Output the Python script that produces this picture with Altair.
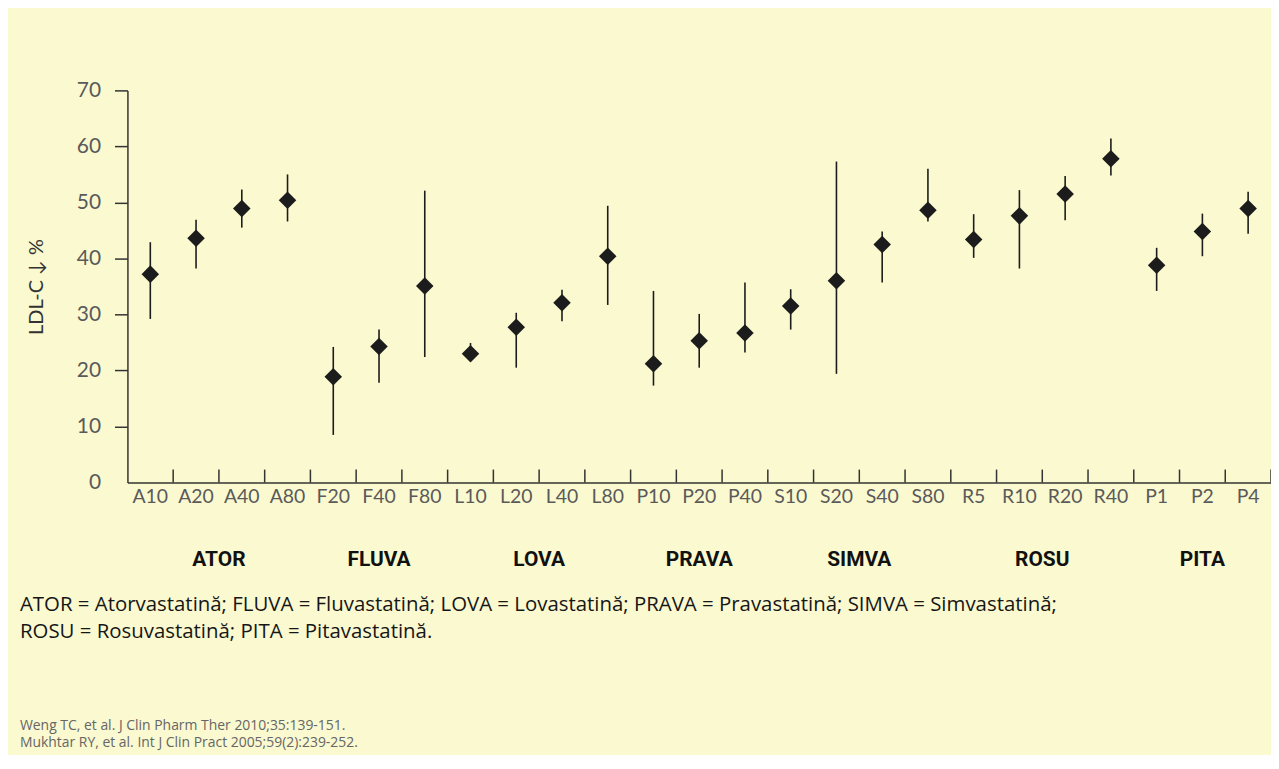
import altair as alt
import pandas as pd

categories = ["A10", "A20", "A40", "A80", "F20", "F40", "F80", "L10", "L20", "L40", "L80",
              "P10", "P20", "P40", "S10", "S20", "S40", "S80", "R5", "R10", "R20", "R40",
              "P1", "P2", "P4"]
mean_vals = [37.2, 43.6, 48.9, 50.4, 18.9, 24.3, 35.1, 23.0, 27.7, 32.1, 40.4,
             21.2, 25.3, 26.7, 31.5, 36.0, 42.5, 48.6, 43.4, 47.6, 51.5, 57.8,
             38.8, 44.8, 48.9]
low_vals = [29.2, 38.2, 45.5, 46.6, 8.5, 17.8, 22.4, 22.1, 20.5, 28.8, 31.7,
            17.3, 20.5, 23.2, 27.3, 19.4, 35.7, 46.6, 40.1, 38.2, 46.8, 54.8,
            34.2, 40.4, 44.4]
high_vals = [42.9, 46.9, 52.3, 55.0, 24.2, 27.3, 52.1, 24.9, 30.3, 34.4, 49.4,
             34.2, 30.1, 35.7, 34.5, 57.3, 44.8, 56.0, 47.9, 52.2, 54.7, 61.4,
             41.9, 48.0, 51.9]
group_names = ["ATOR", "FLUVA", "LOVA", "PRAVA", "SIMVA", "ROSU", "PITA"]
group_sizes = [4, 3, 4, 3, 4, 4, 3]

footnote_1 = "ATOR = Atorvastatină; FLUVA = Fluvastatină; LOVA = Lovastatină; PRAVA = Pravastatină; SIMVA = Simvastatină;"
footnote_2 = "ROSU = Rosuvastatină; PITA = Pitavastatină."
ref_1 = "Weng TC, et al. J Clin Pharm Ther 2010;35:139-151."
ref_2 = "Mukhtar RY, et al. Int J Clin Pract 2005;59(2):239-252."
y_title = "LDL-C ↓ %"

W, H = 1149, 394
STEP = W / len(categories)
BG = "#faf9d0"
INK = "#1c1c1c"
LABEL = "#5a5a5a"

df = pd.DataFrame({"cat": categories, "mean": mean_vals, "low": low_vals, "high": high_vals})

xscale = alt.Scale(type="band", domain=categories, paddingInner=0, paddingOuter=0)
yscale = alt.Scale(domain=[0, 70], nice=False, zero=True)

x_enc = alt.X("cat:N", scale=xscale, sort=categories,
              axis=alt.Axis(title=None, ticks=False, labelAngle=0, labelFont="Lato",
                            labelFontSize=19.5, labelColor=LABEL, labelPadding=5,
                            domainColor="#333333", domainWidth=1.5))

base = alt.Chart(df)

bars = base.mark_rule(color=INK, strokeWidth=1.6).encode(
    x=x_enc,
    y=alt.Y("low:Q", scale=yscale,
            axis=alt.Axis(title=y_title, values=[0, 10, 20, 30, 40, 50, 60, 70],
                          grid=False, titleFont="Lato", titleFontSize=20,
                          titleFontWeight="normal", titleColor="#333333", titlePadding=30,
                          labelFont="Lato", labelFontSize=21, labelColor=LABEL,
                          labelPadding=14, tickSize=13, tickWidth=1.5,
                          tickColor={"condition": {"test": "datum.value == 0", "value": "transparent"},
                                     "value": "#333333"},
                          domainColor="#333333", domainWidth=1.5)),
    y2="high:Q",
)

points = base.mark_point(shape="diamond", filled=True, size=310, color=INK, opacity=1).encode(
    x=alt.X("cat:N", scale=xscale, sort=categories),
    y=alt.Y("mean:Q", scale=yscale),
)

ticks = base.mark_rule(color="#333333", strokeWidth=1.5, xOffset=STEP / 2).encode(
    x=alt.X("cat:N", scale=xscale, sort=categories),
    y=alt.value(H),
    y2=alt.value(H - 13),
)

layers = [bars, points, ticks]

start = 0
for name, n in zip(group_names, group_sizes):
    gdf = pd.DataFrame({"cat": [categories[start]], "label": [name]})
    layers.append(
        alt.Chart(gdf).mark_text(font="Roboto", fontSize=21, fontWeight="bold", color="#111111",
                                 xOffset=(n - 1) / 2 * STEP, baseline="middle").encode(
            x=alt.X("cat:N", scale=xscale, sort=categories),
            y=alt.value(H + 78),
            text="label:N",
        )
    )
    start += n


def note_layer(txt, ypos, size, color):
    return alt.Chart(pd.DataFrame({"t": [txt]})).mark_text(
        font="Open Sans", fontSize=size, color=color, align="left", baseline="middle"
    ).encode(x=alt.value(-108), y=alt.value(ypos), text="t:N")


layers.append(note_layer(footnote_1, H + 123, 20.5, "#161616"))
layers.append(note_layer(footnote_2, H + 150, 20.5, "#161616"))
layers.append(note_layer(ref_1, H + 245, 14, "#666666"))
layers.append(note_layer(ref_2, H + 262, 14, "#666666"))

chart = alt.layer(*layers).properties(
    width=W, height=H,
    autosize=alt.AutoSizeParams(type="none"),
    padding={"left": 120, "top": 81, "right": 0, "bottom": 272},
    background=BG,
).configure_view(stroke=None)

chart.save("out.html", embed_options={"renderer": "svg", "actions": False})
